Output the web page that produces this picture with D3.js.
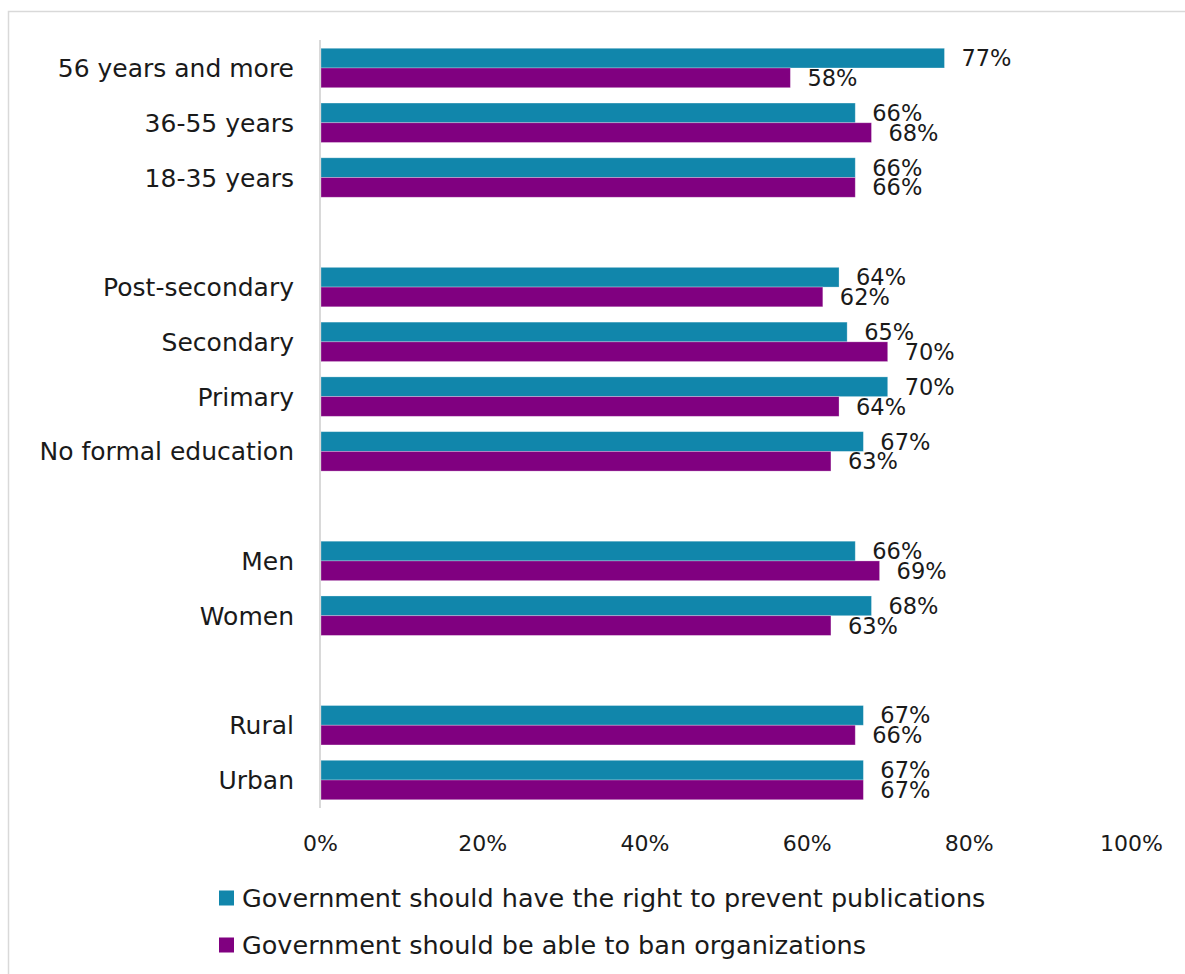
<!DOCTYPE html>
<html>
<head>
<meta charset="utf-8">
<script src="https://cdn.jsdelivr.net/npm/d3@7/dist/d3.min.js"></script>
<style>
  html, body { margin: 0; padding: 0; background: #ffffff; }
  svg { display: block; }
  text { font-family: "DejaVu Sans", sans-serif; fill: #1a1a1a; }
</style>
</head>
<body>
<svg id="chart" width="1185" height="974"></svg>
<script>
// Row labels, top to bottom; empty strings separate the groups
const categories = [
  "56 years and more", "36-55 years", "18-35 years", "",
  "Post-secondary", "Secondary", "Primary", "No formal education", "",
  "Men", "Women", "",
  "Rural", "Urban"
];
// Percent values per row (null for separator rows)
const publications = [77, 66, 66, null, 64, 65, 70, 67, null, 66, 68, null, 67, 67];
const organizations = [58, 68, 66, null, 62, 70, 64, 63, null, 69, 63, null, 66, 67];
const seriesNames = [
  "Government should have the right to prevent publications",
  "Government should be able to ban organizations"
];
const seriesColors = ["#1186ab", "#800080"];
const xTicks = [0, 20, 40, 60, 80, 100];

const svg = d3.select("#chart");

// Outer frame
svg.append("rect")
  .attr("x", 8.5).attr("y", 11.5)
  .attr("width", 1200).attr("height", 1000)
  .attr("fill", "none").attr("stroke", "#d9d9d9").attr("stroke-width", 1.5);

const x = d3.scaleLinear().domain([0, 100]).range([320, 1131]);
const rowIds = categories.map((c, i) => i);
const y = d3.scaleBand().domain(rowIds).range([40.6, 807.4])
  .paddingInner(0.28).paddingOuter(0.14);
const ySub = d3.scaleBand().domain([0, 1]).range([0, y.bandwidth()]);

const rows = categories.map((c, i) => ({
  i, label: c, values: [publications[i], organizations[i]]
})).filter(d => d.label !== "");

// Bars
const g = svg.append("g");
rows.forEach(r => {
  r.values.forEach((v, s) => {
    g.append("rect")
      .attr("x", x(0) + 1)
      .attr("y", y(r.i) + ySub(s))
      .attr("width", x(v) - x(0) - 1)
      .attr("height", ySub.bandwidth())
      .attr("fill", seriesColors[s])
      .attr("stroke", "#ffffff").attr("stroke-opacity", 0.35).attr("stroke-width", 0.8);
  });
});

// Value labels
rows.forEach(r => {
  r.values.forEach((v, s) => {
    svg.append("text")
      .attr("x", x(v) + 17)
      .attr("y", y(r.i) + ySub(s) + ySub.bandwidth() / 2)
      .attr("dy", "0.36em")
      .attr("font-size", 22.5)
      .text(v + "%");
  });
});

// Category axis line
svg.append("line")
  .attr("x1", x(0)).attr("x2", x(0))
  .attr("y1", 40).attr("y2", 808)
  .attr("stroke", "#d9d9d9").attr("stroke-width", 2);

// Category labels
rows.forEach(r => {
  svg.append("text")
    .attr("x", 294)
    .attr("y", y(r.i) + y.bandwidth() / 2)
    .attr("dy", "0.36em")
    .attr("text-anchor", "end")
    .attr("font-size", 25)
    .text(r.label);
});

// Value axis tick labels
const xAxis = d3.axisBottom(x).tickValues(xTicks).tickFormat(d => d + "%").tickSize(0).tickPadding(0);
const axG = svg.append("g").attr("transform", "translate(0,843)").call(xAxis);
axG.select(".domain").remove();
axG.selectAll("text")
  .attr("dy", "0.36em")
  .attr("font-size", 22)
  .attr("font-family", "'DejaVu Sans', sans-serif")
  .attr("fill", "#1a1a1a");

// Legend
const legendY = [898, 945];
seriesNames.forEach((name, s) => {
  svg.append("rect")
    .attr("x", 219).attr("y", legendY[s] - 7.5)
    .attr("width", 15).attr("height", 15)
    .attr("fill", seriesColors[s]);
  svg.append("text")
    .attr("x", 242).attr("y", legendY[s])
    .attr("dy", "0.36em")
    .attr("font-size", 25.5)
    .text(name);
});
</script>
</body>
</html>
